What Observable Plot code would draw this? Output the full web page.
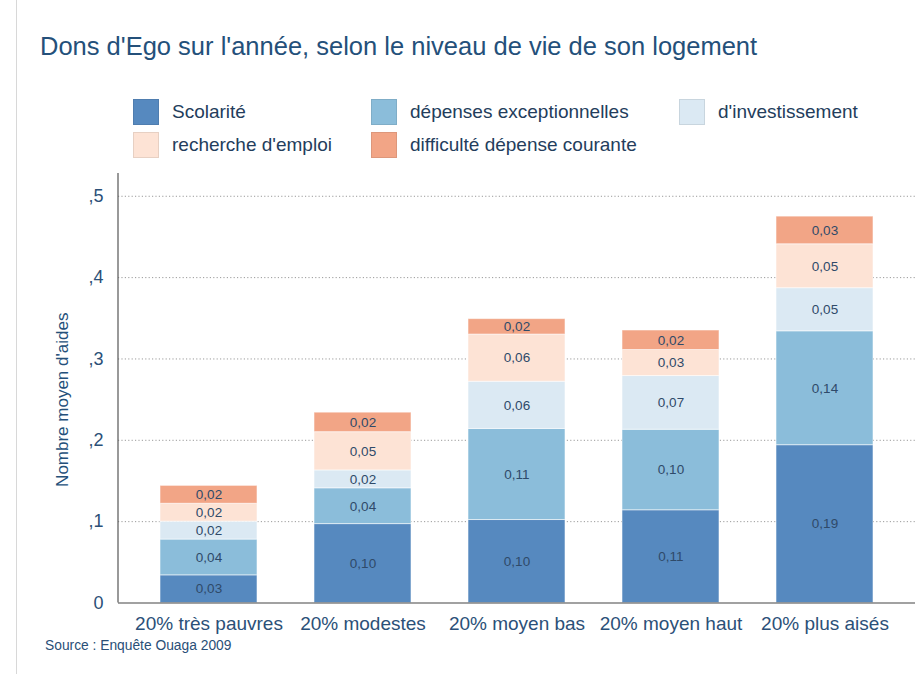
<!DOCTYPE html>
<html>
<head>
<meta charset="utf-8">
<script src="https://cdn.jsdelivr.net/npm/d3@7"></script>
<script src="https://cdn.jsdelivr.net/npm/@observablehq/plot@0.6"></script>
<style>
  html, body { margin: 0; padding: 0; background: #fff; }
  body { width: 921px; height: 674px; position: relative; overflow: hidden; font-family: "Liberation Sans", Arial, sans-serif; }
  #border { position: absolute; left: 16px; top: 0; width: 1px; height: 674px; background: #d8d8d8; }
  #title { position: absolute; left: 40px; top: 31px; font-size: 25.5px; line-height: 30px; color: #24507a; white-space: nowrap; }
  .leg { position: absolute; display: flex; align-items: center; font-size: 19px; color: #233d5c; white-space: nowrap; }
  .sw { width: 26px; height: 26px; margin-right: 13px; box-sizing: border-box; }
  #source { position: absolute; left: 45px; top: 638px; font-size: 13.8px; line-height: 16px; color: #2a4f77; white-space: nowrap; }
  #chart { position: absolute; left: 0; top: 160px; }
</style>
</head>
<body>
<div id="border"></div>
<div id="title">Dons d'Ego sur l'année, selon le niveau de vie de son logement</div>
<div id="legend"></div>
<div id="chart"></div>
<div id="source">Source : Enquête Ouaga 2009</div>
<script>
const categories = ["20% très pauvres", "20% modestes", "20% moyen bas", "20% moyen haut", "20% plus aisés"];
const series = ["Scolarité", "dépenses exceptionnelles", "d'investissement", "recherche d'emploi", "difficulté dépense courante"];
const colors = ["#5689bf", "#8bbdda", "#dbe9f3", "#fde3d5", "#f2a586"];
const scolarite = [0.034, 0.097, 0.102, 0.114, 0.194];
const depensesExceptionnelles = [0.044, 0.044, 0.112, 0.099, 0.140];
const investissement = [0.022, 0.022, 0.058, 0.066, 0.053];
const rechercheEmploi = [0.022, 0.047, 0.058, 0.032, 0.054];
const difficulteCourante = [0.022, 0.024, 0.019, 0.024, 0.034];
const yTicks = [0, 0.1, 0.2, 0.3, 0.4, 0.5];
const yLabel = "Nombre moyen d'aides";

const seriesValues = [scolarite, depensesExceptionnelles, investissement, rechercheEmploi, difficulteCourante];
const data = [];
categories.forEach((c, i) => {
  series.forEach((s, j) => data.push({category: c, series: s, value: seriesValues[j][i]}));
});
const fmt = v => v.toFixed(2).replace(".", ",");
const tickFmt = v => v === 0 ? "0" : v.toFixed(1).replace(/^0\./, ",");

// legend
const legendPos = [[133, 99], [371, 99], [679, 99], [133, 132], [371, 132]];
const legend = document.getElementById("legend");
series.forEach((s, j) => {
  const el = document.createElement("div");
  el.className = "leg";
  el.style.left = legendPos[j][0] + "px";
  el.style.top = legendPos[j][1] + "px";
  const sw = document.createElement("div");
  sw.className = "sw";
  sw.style.background = colors[j];
  sw.style.border = "1px solid " + d3.color(colors[j]).darker(0.25);
  el.appendChild(sw);
  const t = document.createElement("span");
  t.textContent = s;
  el.appendChild(t);
  legend.appendChild(el);
});

const chart = Plot.plot({
  width: 921,
  height: 514,
  marginLeft: 118,
  marginRight: 6,
  marginTop: 13,
  marginBottom: 71.5,
  style: {fontFamily: "Liberation Sans, Arial, sans-serif", background: "transparent"},
  x: {domain: categories, paddingInner: 0.37, paddingOuter: 0.2725},
  y: {domain: [0, 0.528]},
  color: {domain: series, range: colors},
  marks: [
    Plot.ruleY(yTicks.filter(d => d > 0), {stroke: "#9a9a9a", strokeDasharray: "1.2,2.2", strokeWidth: 1}),
    Plot.barY(data, Plot.stackY({x: "category", y: "value", fill: "series", stroke: "#ffffff", strokeOpacity: 0.55, strokeWidth: 1})),
    Plot.text(data, Plot.stackY({x: "category", y: "value", z: "series", text: d => fmt(d.value), fill: "#2f4a69", fontSize: 13.5})),
    Plot.axisY({ticks: yTicks, tickFormat: tickFmt, tickSize: 0, tickPadding: 15, fontSize: 18, color: "#2b5078", label: null}),
    Plot.axisX({tickSize: 0, tickPadding: 13, fontSize: 19, color: "#2b5078", label: null}),
    Plot.ruleY([0], {stroke: "#444", strokeWidth: 1.2})
  ]
});
document.getElementById("chart").appendChild(chart);

// left axis line and rotated y label
const svg = d3.select(chart);
const yr = chart.scale("y").range;
svg.append("line")
  .attr("x1", 118).attr("x2", 118)
  .attr("y1", Math.min(...yr)).attr("y2", Math.max(...yr))
  .attr("stroke", "#555").attr("stroke-width", 1.2);
svg.append("text")
  .attr("transform", `translate(68,${(yr[0] + yr[1]) / 2 + 12}) rotate(-90)`)
  .attr("text-anchor", "middle")
  .attr("font-size", 17)
  .attr("fill", "#24507a")
  .text(yLabel);
</script>
</body>
</html>
